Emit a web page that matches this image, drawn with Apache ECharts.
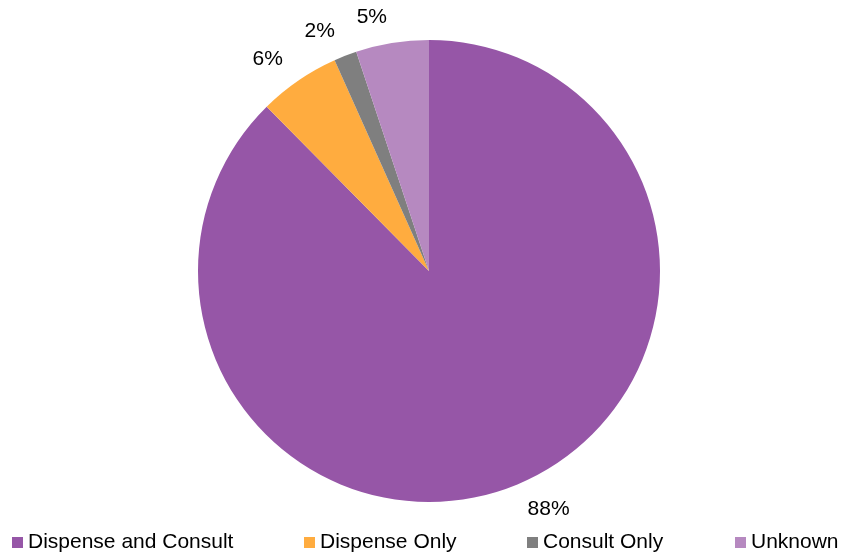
<!DOCTYPE html>
<html>
<head>
<meta charset="utf-8">
<script src="https://cdn.jsdelivr.net/npm/echarts@6/dist/echarts.min.js"></script>
<style>
html,body{margin:0;padding:0;background:#fff;}
#chart{width:847px;height:554px;}
</style>
</head>
<body>
<div id="chart"></div>
<script>
var categories = ['Dispense and Consult', 'Dispense Only', 'Consult Only', 'Unknown'];
var values = [87.6, 5.7, 1.6, 5.1];
var colors = ['#9656A7', '#FFAC3F', '#7F7F7F', '#B689C0'];
var legendLeft = [12, 304, 527, 735];

var chart = echarts.init(document.getElementById('chart'));
var font = 'Liberation Sans, Arial, sans-serif';

var legends = categories.map(function (c, i) {
  return {
    data: [c],
    left: legendLeft[i],
    top: 532,
    padding: 0,
    itemWidth: 11,
    itemHeight: 11,
    itemGap: 0,
    icon: 'rect',
    selectedMode: false,
    textStyle: { fontFamily: font, fontSize: 21, color: '#000000' }
  };
});

chart.setOption({
  animation: false,
  backgroundColor: '#ffffff',
  legend: legends,
  color: colors,
  series: [
    {
      type: 'pie',
      center: [429, 271],
      radius: [0, 231],
      startAngle: 90,
      clockwise: true,
      avoidLabelOverlap: false,
      label: {
        show: true,
        position: 'outside',
        alignTo: 'none',
        distanceToLabelLine: 1,
        fontFamily: font,
        fontSize: 21,
        color: '#000000',
        formatter: function (p) { return Math.round(p.value) + '%'; }
      },
      labelLine: { show: false, length: 26, length2: 0 },
      emphasis: { disabled: true },
      data: categories.map(function (c, i) {
        return { name: c, value: values[i], itemStyle: { color: colors[i] } };
      })
    }
  ]
});
</script>
</body>
</html>
